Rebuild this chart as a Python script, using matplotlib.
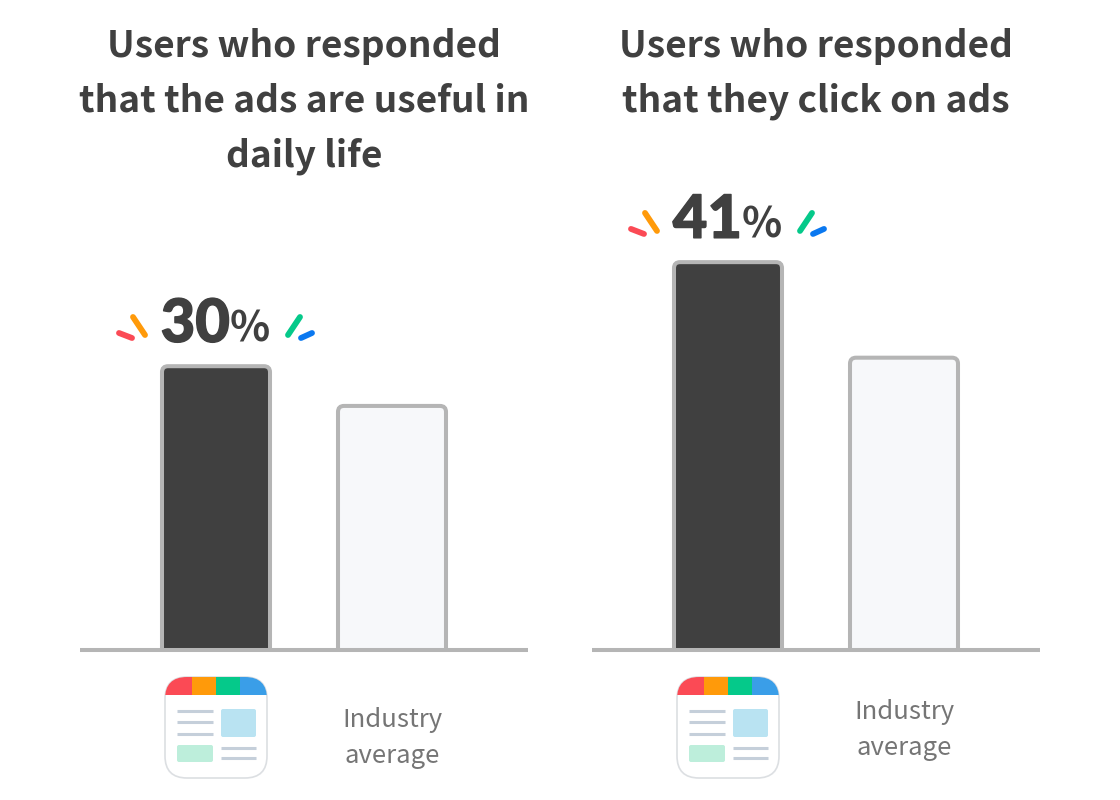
import matplotlib
matplotlib.use('Agg')
import matplotlib.pyplot as plt
import matplotlib.patheffects as pe
from matplotlib.path import Path
from matplotlib.patches import PathPatch, FancyBboxPatch, Rectangle

plt.rcParams['font.family'] = ['Noto Sans CJK JP', 'DejaVu Sans']

W, H = 1120, 800
titles = ['Users who responded\nthat the ads are useful in\ndaily life',
          'Users who responded\nthat they click on ads']
app_values = [30, 41]
industry_values = [25.8, 30.9]
industry_label = 'Industry\naverage'
label_y = [738, 730]
panel_x = [80, 592]

DARK = '#404040'
GREY = '#b5b5b5'
PX_PER_PCT = 9.46
BASE_Y = 650


def rounded_top(ax, x, w, h, r):
    # bar with only the top corners rounded, r in pixels
    ry = r / PX_PER_PCT
    verts = [(x, 0), (x, h - ry), (x, h), (x + r, h), (x + w - r, h), (x + w, h),
             (x + w, h - ry), (x + w, 0)]
    codes = [Path.MOVETO, Path.LINETO, Path.CURVE3, Path.CURVE3, Path.LINETO,
             Path.CURVE3, Path.CURVE3, Path.LINETO]
    return Path(verts, codes)


def draw_sparks(bg, dx, dy):
    sparks = [('#fb4a55', (119, 333), (132, 338)), ('#ff9a0a', (133, 317), (145, 335)),
              ('#05c98a', (300, 317), (288, 335)), ('#0a78f0', (312, 333), (301, 338))]
    for c, a, b in sparks:
        bg.plot([a[0] + dx, b[0] + dx], [a[1] + dy, b[1] + dy], color=c, lw=4.2,
                solid_capstyle='round')


def draw_icon(bg, dx):
    box = FancyBboxPatch((165 + dx, 677), 102, 101, boxstyle='round,pad=0,rounding_size=22',
                         fc='white', ec='#dcdfe2', lw=1.2)
    bg.add_patch(box)
    band = [('#fb4a55', 165, 27), ('#ff9a0a', 192, 24), ('#05c98a', 216, 24), ('#3a9ee8', 240, 27)]
    for c, x, w in band:
        r = Rectangle((x + dx, 677), w, 18, fc=c, ec='none')
        bg.add_patch(r)
        r.set_clip_path(box)
    for y in [711, 722, 734]:
        bg.plot([177 + dx, 213 + dx], [y, y], color='#c5cfda', lw=2.2, solid_capstyle='butt')
    for y in [748, 758]:
        bg.plot([221 + dx, 256 + dx], [y, y], color='#c5cfda', lw=2.2, solid_capstyle='butt')
    bg.add_patch(FancyBboxPatch((221 + dx, 709), 35, 28, boxstyle='round,pad=0,rounding_size=2',
                                fc='#b9e3f2', ec='none'))
    bg.add_patch(FancyBboxPatch((177 + dx, 745), 36, 17, boxstyle='round,pad=0,rounding_size=2',
                                fc='#bdeedb', ec='none'))


fig = plt.figure(figsize=(W / 100, H / 100), dpi=100, facecolor='white')

# overlay in pixel coordinates for the decorations
bg = fig.add_axes([0, 0, 1, 1])
bg.set_xlim(0, W)
bg.set_ylim(H, 0)
bg.axis('off')

for i in range(2):
    x0 = panel_x[i]
    dx = x0 - panel_x[0]
    ax = fig.add_axes([x0 / W, 1 - BASE_Y / H, 448 / W, 600 / H])
    ax.set_xlim(0, 448)
    ax.set_ylim(0, 600 / PX_PER_PCT)
    ax.patch.set_alpha(0)
    for s in ['top', 'left', 'right']:
        ax.spines[s].set_visible(False)
    ax.spines['bottom'].set_color(GREY)
    ax.spines['bottom'].set_linewidth(2.9)
    ax.spines['bottom'].set_capstyle('butt')
    ax.set_xticks([])
    ax.set_yticks([])

    ax.add_patch(PathPatch(rounded_top(ax, 82, 108, app_values[i], 6), fc=DARK, ec=GREY, lw=2.9))
    ax.add_patch(PathPatch(rounded_top(ax, 258, 108, industry_values[i], 6), fc='#f7f8fa', ec=GREY, lw=2.9))

    num = ax.annotate(str(app_values[i]), (150, app_values[i]), xytext=(0, 17.5),
                      textcoords='offset points', ha='right', va='baseline', fontsize=43,
                      fontfamily='Lato', fontweight='black', color=DARK)
    num.set_path_effects([pe.withStroke(linewidth=1.0, foreground=DARK)])
    ax.annotate('%', (150, app_values[i]), xytext=(0, 17.5),
                textcoords='offset points', ha='left', va='baseline', fontsize=30,
                fontweight='bold', color=DARK)

    bg.text(304 + dx, 28, titles[i], ha='center', va='top', fontsize=26.7, fontweight='bold',
            color=DARK, linespacing=1.62)
    bg.text(392 + dx, label_y[i], industry_label, ha='center', va='center', fontsize=18.5,
            color='#757575', linespacing=1.5)

    draw_sparks(bg, dx, (app_values[0] - app_values[i]) * PX_PER_PCT)
    draw_icon(bg, dx)

fig.savefig('out.png', dpi=100)
